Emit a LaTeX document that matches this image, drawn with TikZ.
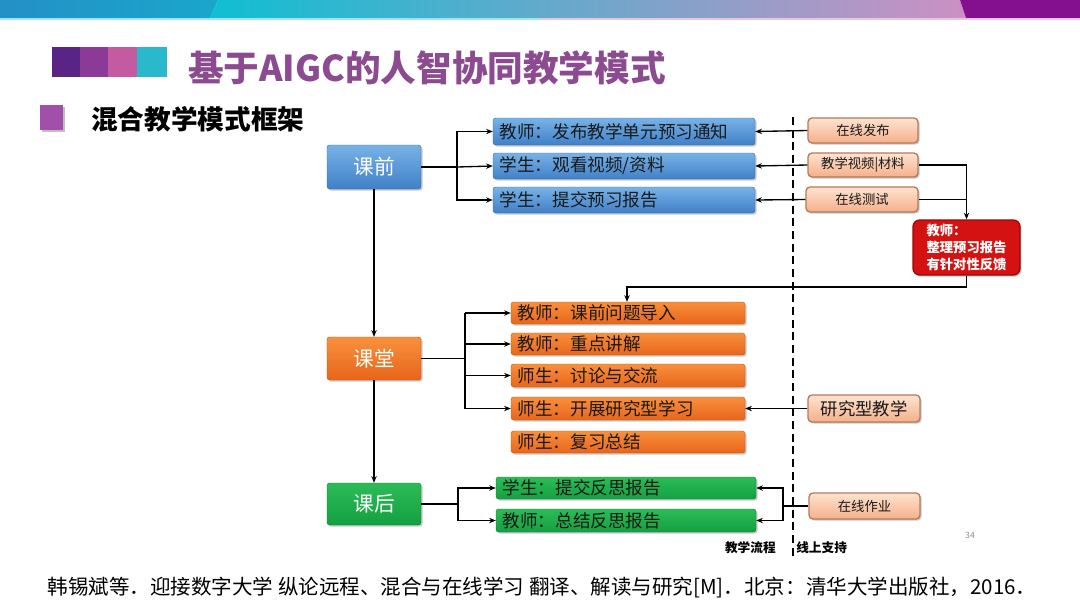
\documentclass[tikz,border=0pt]{standalone}
\usepackage{fontspec}
\setmainfont{Noto Sans CJK SC}
\usetikzlibrary{arrows.meta,shadows,calc}
\definecolor{tpurple}{HTML}{8C4A90}
\definecolor{sq1}{HTML}{5A2486}
\definecolor{sq2}{HTML}{8C3A98}
\definecolor{sq3}{HTML}{C45AA0}
\definecolor{sq4}{HTML}{2AB8CC}
\definecolor{subsq}{HTML}{A050A8}
\definecolor{bluetop}{HTML}{78B2E6}
\definecolor{bluebot}{HTML}{3F80C8}
\definecolor{orgtop}{HTML}{F8903E}
\definecolor{orgbot}{HTML}{E8651A}
\definecolor{grntop}{HTML}{2CBC56}
\definecolor{grnbot}{HTML}{14A042}
\definecolor{peachtop}{HTML}{FDE3D0}
\definecolor{peachbot}{HTML}{F5B08A}
\definecolor{peachdraw}{HTML}{B8785A}
\definecolor{redfill}{HTML}{D41212}
\definecolor{reddraw}{HTML}{9E0606}
\definecolor{banA}{HTML}{2490C6}
\definecolor{banB}{HTML}{1AA6CC}
\definecolor{banC}{HTML}{10BED2}
\definecolor{banD}{HTML}{CC90C4}
\definecolor{banE}{HTML}{85108F}
\newcommand\mybox[7]{%
  \pgfmathsetmacro\bw{(#5-#3)*0.75}%
  \pgfmathsetmacro\bh{(#6-#4)*0.75}%
  \node[#2,minimum width=\bw pt,minimum height=\bh pt] (#1) at ({(#3+#5)/2},{(#4+#6)/2}) {#7};}
\newcommand\flowbox[7]{%
  \pgfmathsetmacro\bw{(#5-#3)*0.75}%
  \pgfmathsetmacro\bh{(#6-#4)*0.75}%
  \pgfmathsetmacro\tw{(#5-#3)*0.75-10}%
  \node[#2,minimum width=\bw pt,minimum height=\bh pt,text width=\tw pt,align=left,inner xsep=5pt] (#1) at ({(#3+#5)/2},{(#4+#6)/2}) {#7};}
\tikzset{
  x=0.75pt,y=-0.75pt,
  shad/.style={drop shadow={shadow xshift=1.2pt,shadow yshift=-1.2pt,opacity=0.35,fill=black!60}},
  bluebox/.style={rounded corners=2pt,top color=bluetop,bottom color=bluebot,draw=bluebot!85!black,line width=0.3pt,shad,font=\fontsize{13.2}{15}\selectfont,text=black!90,inner ysep=0pt},
  orgbox/.style={rounded corners=2pt,top color=orgtop,bottom color=orgbot,draw=orgbot!85!black,line width=0.3pt,shad,font=\fontsize{13.2}{15}\selectfont,text=black!90,inner ysep=0pt},
  grnbox/.style={rounded corners=2pt,top color=grntop,bottom color=grnbot,draw=grnbot!80!black,line width=0.3pt,shad,font=\fontsize{13.2}{15}\selectfont,text=black!90,inner ysep=0pt},
  mainlbl/.style={font=\fontsize{15.5}{18}\selectfont,text=white,inner sep=0pt},
  peach/.style={rounded corners=3pt,top color=peachtop,bottom color=peachbot,draw=peachdraw,line width=1pt,shad,font=\fontsize{10}{12}\selectfont,text=black!90,inner sep=0pt},
  redbox/.style={rounded corners=5pt,fill=redfill,draw=reddraw,line width=1pt,shad,font=\bfseries\fontsize{10}{12.5}\selectfont,text=white,inner xsep=7pt},
  conn/.style={line width=1pt,black},
  arr/.style={conn,-{Stealth[length=5pt,width=4pt]}},
}
\begin{document}
\begin{tikzpicture}
\useasboundingbox (0,0) rectangle (1080,608);
\fill[white] (0,0) rectangle (1080,608);
% banner
\shade[left color=banA,right color=banB] (0,0) -- (218,0) -- (210,18) -- (0,18) -- cycle;
\shade[left color=banC,right color=banD] (218,0) -- (960,0) -- (966,18) -- (210,18) -- cycle;
\fill[banE] (960,0) -- (1080,0) -- (1080,18) -- (966,18) -- cycle;
\fill[banC!40] (0,18) rectangle (540,20);
\fill[banD!50] (540,18) rectangle (1080,20);
% title squares
\fill[sq1] (52,47) rectangle (80,77);
\fill[sq2] (80,47) rectangle (108,77);
\fill[sq3] (108,47) rectangle (137,77);
\fill[sq4] (137,47) rectangle (167,77);
\node[anchor=west,inner sep=0pt,text=tpurple,font=\bfseries\fontsize{26.7}{30}\selectfont] (title) at (188,68) {基于AIGC的人智协同教学模式};
\fill[black!25] (42,107) rectangle (65,132);
\fill[subsq] (40,105) rectangle (63,130);
\node[anchor=west,inner sep=0pt,font=\bfseries\fontsize{20}{22}\selectfont] (sub) at (91,119) {混合教学模式框架};
% main stage boxes
\mybox{kq}{bluebox,mainlbl}{327}{145}{421}{189}{课前}
\mybox{kt}{orgbox,mainlbl}{327}{337}{421}{380}{课堂}
\mybox{kh}{grnbox,mainlbl}{327}{483}{421}{525}{课后}
% blue flow boxes
\flowbox{b1}{bluebox}{493}{118}{755}{145}{教师：发布教学单元预习通知}
\flowbox{b2}{bluebox}{493}{153}{755}{179}{学生：观看视频/资料}
\flowbox{b3}{bluebox}{493}{187}{755}{213}{学生：提交预习报告}
% orange flow boxes
\flowbox{o1}{orgbox}{511}{302}{745}{324}{教师：课前问题导入}
\flowbox{o2}{orgbox}{511}{333}{745}{355}{教师：重点讲解}
\flowbox{o3}{orgbox}{511}{364}{745}{387}{师生：讨论与交流}
\flowbox{o4}{orgbox}{511}{397}{745}{420}{师生：开展研究型学习}
\flowbox{o5}{orgbox}{511}{431}{745}{453}{师生：复习总结}
% green flow boxes
\flowbox{g1}{grnbox}{496}{477}{756}{499}{学生：提交反思报告}
\flowbox{g2}{grnbox}{496}{509}{756}{532}{教师：总结反思报告}
% support boxes
\mybox{s1}{peach}{808}{118}{918}{143}{在线发布}
\mybox{s2}{peach}{808}{153}{918}{177}{教学视频|材料}
\mybox{s3}{peach}{806}{187}{918}{212}{在线测试}
\mybox{s4}{peach,font=\fontsize{13}{15}\selectfont}{808}{395}{920}{422}{研究型教学\hspace{8pt}}
\mybox{s5}{peach}{809}{493}{920}{519}{在线作业}
% red box
\mybox{red}{redbox,align=left}{913}{222}{1020}{273}{教师：\\整理预习报告\\有针对性反馈}
% dashed separator
\coordinate (dtop) at (793,117);
\coordinate (dbot) at (793,556);
\draw[line width=1.3pt,dash pattern=on 6pt off 3.5pt] (dtop) -- (dbot);
% connectors: pre-class
\coordinate (j1) at (457,167);
\draw[conn] (kq.east) -- (kq.east -| j1);
\draw[arr] (j1) |- (b1.west);
\draw[arr] (kq.east -| j1) -- (b2.west);
\draw[arr] (j1) |- (b3.west);
\draw[arr] (s1.west) -- (b1.east);
\draw[arr] (s2.west) -- (b2.east);
\draw[arr] (s3.west) -- (b3.east);
\coordinate (rj) at (red.north |- s2.east);
\draw[conn] (s2.east) -- (rj);
\draw[conn] (s3.east) -- (s3.east -| rj);
\draw[arr] (rj) -- (red.north);
\coordinate (rt) at (627,287);
\draw[arr] (red.south) -- (red.south |- rt) -- (rt) -- (rt |- o1.north);
% main flow
\draw[arr] (kq.south) -- (kt.north);
\draw[arr] (kt.south) -- (kh.north);
% in-class
\coordinate (j2) at (465,358);
\draw[conn] (kt.east) -- (kt.east -| j2);
\draw[conn] (j2 |- o1.west) -- (j2 |- o4.west);
\draw[arr] (j2 |- o1.west) -- (o1.west);
\draw[arr] (j2 |- o2.west) -- (o2.west);
\draw[arr] (j2 |- o3.west) -- (o3.west);
\draw[arr] (j2 |- o4.west) -- (o4.west);
\draw[arr] (s4.west) -- (o4.east);
% after-class
\coordinate (j3) at (458,504);
\draw[conn] (kh.east) -- (kh.east -| j3);
\draw[arr] (kh.east -| j3) |- (g1.west);
\draw[arr] (kh.east -| j3) |- (g2.west);
\coordinate (hj) at (783,506);
\draw[conn] (s5.west) -- (hj);
\draw[arr] (hj) |- (g1.east);
\draw[arr] (hj) |- (g2.east);
% labels
\node[anchor=east,inner sep=0pt,font=\bfseries\fontsize{9.5}{11}\selectfont] (lf) at (776,548) {教学流程};
\node[anchor=west,inner sep=0pt,font=\bfseries\fontsize{9.5}{11}\selectfont] (ls) at (796,548) {线上支持};
\node[inner sep=0pt,text=black!45,font=\fontsize{6.5}{8}\selectfont] (pg) at (970,535) {34};
\node[inner sep=0pt,font=\fontsize{15.4}{17}\selectfont] (cite) at (542,588) {韩锡斌等．迎接数字大学 纵论远程、混合与在线学习 翻译、解读与研究[M]．北京：清华大学出版社，2016．};
\end{tikzpicture}
\end{document}
